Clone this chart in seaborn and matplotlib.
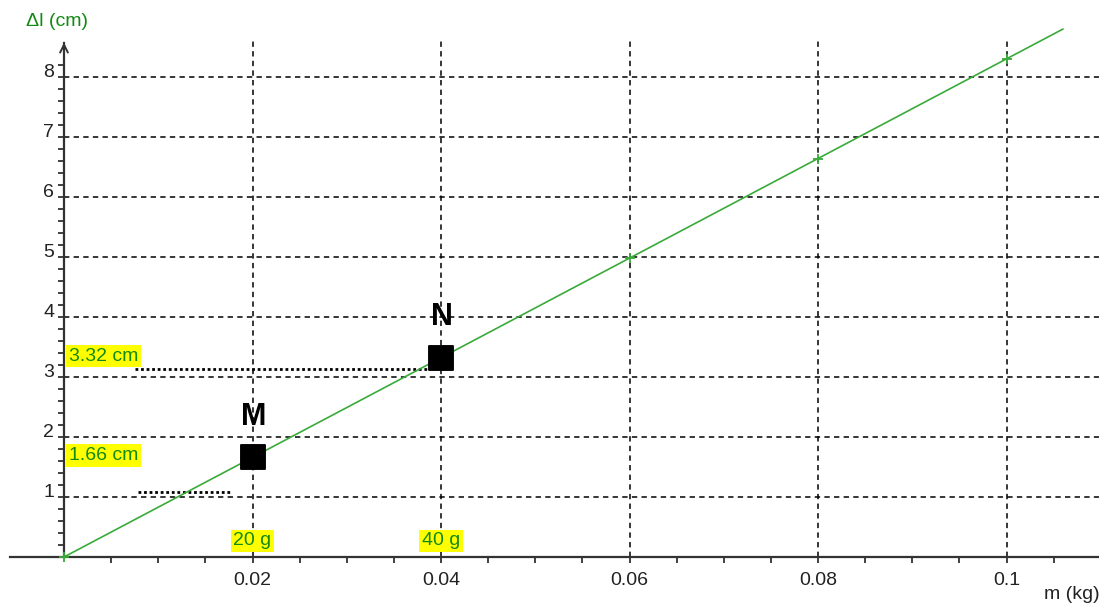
import matplotlib
matplotlib.use("Agg")
import matplotlib.pyplot as plt
from matplotlib.ticker import FixedLocator
import seaborn as sns

# measured points (mass in kg, elongation in cm)
masses = [0.0, 0.06, 0.08, 0.1]
elongations = [0.0, 4.98, 6.64, 8.3]

# fitted line, drawn a bit past the last point
line_m = [0.0, 0.106]
line_dl = [0.0, 8.8]

# highlighted points M and N
mn_names = ["M", "N"]
mn_masses = [0.02, 0.04]
mn_dl = [1.66, 3.32]
mn_mass_labels = ["20 g", "40 g"]
mn_dl_labels = ["1.66 cm", "3.32 cm"]

x_ticks = [0.02, 0.04, 0.06, 0.08, 0.1]
x_tick_labels = ["0.02", "0.04", "0.06", "0.08", "0.1"]
y_ticks = [1, 2, 3, 4, 5, 6, 7, 8]

GREEN = "#3aaa3a"
TXT_GREEN = "#138a13"
AXIS = "#333333"

sns.set_style("white")
plt.rcParams["font.family"] = ["Liberation Sans", "DejaVu Sans"]

fig = plt.figure(figsize=(10.99, 6.03), dpi=100)
ax = fig.add_axes([0, 0, 1, 1])
ax.set_xlim(-64 / 9425, (1099 - 64) / 9425)
ax.set_ylim(-(603 - 557) / 60, 557 / 60)

# spines through origin
for s in ["top", "right"]:
    ax.spines[s].set_visible(False)
ax.spines["left"].set_position(("data", 0))
ax.spines["bottom"].set_position(("data", 0))
ax.spines["left"].set_bounds(0, 8.57)
ax.spines["bottom"].set_bounds(-0.0057, 0.1097)
for s in ["left", "bottom"]:
    ax.spines[s].set_color(AXIS)
    ax.spines[s].set_linewidth(1.6)
    ax.spines[s].set_zorder(4)

# arrows at the ends of the axes
ax.annotate("", xy=(0, 8.62), xytext=(0, 8.3),
            arrowprops=dict(arrowstyle="->", lw=1.4, color=AXIS, mutation_scale=14))
ax.annotate("", xy=(0.1099, 0), xytext=(0.106, 0),
            arrowprops=dict(arrowstyle="->", lw=1.4, color=AXIS, mutation_scale=14))

# ticks
ax.xaxis.set_major_locator(FixedLocator(x_ticks))
ax.set_xticklabels(x_tick_labels)
ax.xaxis.set_minor_locator(FixedLocator([i * 0.005 for i in range(1, 22)]))
ax.yaxis.set_major_locator(FixedLocator(y_ticks))
ax.yaxis.set_minor_locator(FixedLocator([i * 0.2 for i in range(1, 42)]))
ax.tick_params(axis="both", which="both", direction="out", length=4, width=1.3,
               color=AXIS, labelsize=14, labelcolor="#222222",
               bottom=True, left=True, top=False, right=False)
ax.tick_params(axis="x", which="both", pad=7)
ax.tick_params(axis="y", which="both", pad=3)
for lab in ax.get_yticklabels():
    lab.set_va("baseline")

# dashed grid
ax.hlines(y_ticks, 0, 0.1099, colors="black", lw=1.1, linestyles=(0, (3.5, 2.8)), zorder=1)
ax.vlines(x_ticks, 0, 8.65, colors="black", lw=1.1, linestyles=(0, (3.5, 2.8)), zorder=1)

# fitted line and measured points
sns.lineplot(x=line_m, y=line_dl, color=GREEN, lw=1.2, ax=ax, zorder=3)
sns.scatterplot(x=masses, y=elongations, marker="+", s=60, color=GREEN,
                linewidth=1.3, ax=ax, zorder=5)

# dotted projection guides
ax.hlines(3.13, 0.0075, 0.0385, colors="black", lw=2, linestyles=(0, (1, 1)), zorder=2)
ax.hlines(1.08, 0.0079, 0.0177, colors="black", lw=2, linestyles=(0, (1, 1)), zorder=2)

# M and N
sns.scatterplot(x=mn_masses, y=mn_dl, marker="s", s=290, color="black",
                edgecolor="black", ax=ax, zorder=6)
for name, xm, yd in zip(mn_names, mn_masses, mn_dl):
    ax.text(xm + 0.0001, yd + 0.68, name, ha="center", va="center",
            fontsize=22, fontweight="bold", color="black", zorder=7)

box = dict(facecolor="#ffff00", edgecolor="none", boxstyle="square,pad=0.14")
for xm, lab in zip(mn_masses, mn_mass_labels):
    ax.text(xm, 0.27, lab, ha="center", va="center", fontsize=14,
            color=TXT_GREEN, bbox=box, zorder=7)
for yd, lab in zip(mn_dl, mn_dl_labels):
    ax.text(0.0005, yd + 0.03, lab, ha="left", va="center", fontsize=14,
            color=TXT_GREEN, bbox=box, zorder=7)

# axis titles
ax.text(-0.0007, 8.92, "Δl (cm)", ha="center", va="center", fontsize=14, color=TXT_GREEN)
ax.text(0.1040, -0.62, "m (kg)", ha="left", va="center", fontsize=14, color="#222222")

ax.set_xlabel("")
ax.set_ylabel("")
fig.savefig("out.png", dpi=100, facecolor="white")
